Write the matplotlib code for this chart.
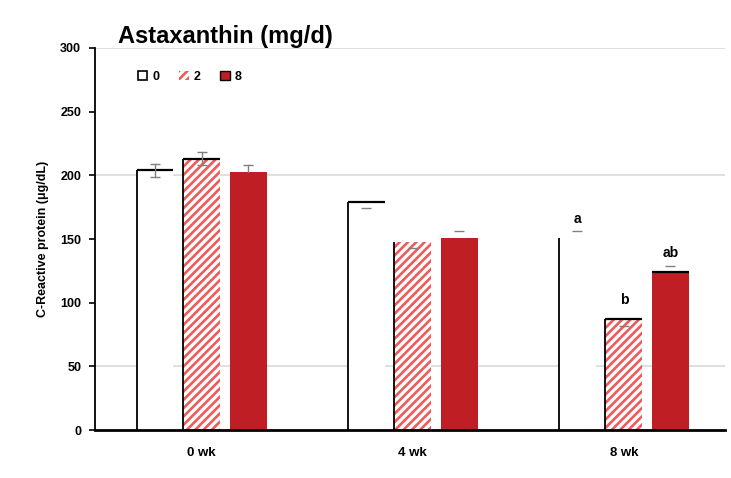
import matplotlib
matplotlib.use("Agg")
import matplotlib.pyplot as plt
import numpy as np
from matplotlib.patches import Patch

plt.rcParams['font.family'] = ['Liberation Sans', 'DejaVu Sans']
plt.rcParams['hatch.linewidth'] = 1.9

groups = ["0 wk", "4 wk", "8 wk"]
doses = ["0", "2", "8"]
vals_0 = [204, 179, 151]
vals_2 = [213, 148, 87]
vals_8 = [203, 151, 124]
err_lo_0 = [5, 5, 0]
err_hi_0 = [5, 0, 5]
err_lo_2 = [5, 5, 5]
err_hi_2 = [5, 0, 0]
err_lo_8 = [0, 0, 0]
err_hi_8 = [5, 5, 5]
letters_0 = ["", "", "a"]
letters_2 = ["", "", "b"]
letters_8 = ["", "", "ab"]
yticks = [0, 50, 100, 150, 200, 250, 300]
grid_levels = [50, 200, 300]

RED = "#be1e24"
HATCH = "#f05a5a"
ERR = "#808080"

fig = plt.figure(figsize=(7.31, 4.78), dpi=100)
ax = fig.add_axes([0.130, 0.1004, 0.862, 0.7992])

x = np.arange(len(groups))
step = 0.221
width = 0.175

for lv in grid_levels:
    ax.axhline(lv, color="#d9d9d9", lw=1.2, zorder=0)

series = [
    (vals_0, err_lo_0, err_hi_0, letters_0, dict(color="white", edgecolor="none")),
    (vals_2, err_lo_2, err_hi_2, letters_2, dict(color="white", edgecolor=HATCH, hatch="////", linewidth=0)),
    (vals_8, err_lo_8, err_hi_8, letters_8, dict(color=RED, edgecolor="none")),
]

for k, (vals, elo, ehi, lets, style) in enumerate(series):
    xs = x + (k - 1) * step
    bars = ax.bar(xs, vals, width=width, zorder=2, **style)
    for i, b in enumerate(bars):
        x0 = b.get_x()
        x1 = x0 + b.get_width()
        xc = x0 + b.get_width() / 2
        h = b.get_height()
        if k in (0, 1):
            ax.plot([x0, x0], [0, h], color="black", lw=1.3, zorder=3, solid_capstyle="butt")
            if not (k == 0 and i == 2) and not (k == 1 and i == 1):
                ax.plot([x0, x1], [h, h], color="black", lw=1.6, zorder=3, solid_capstyle="butt")
        if k == 2 and i == 2:
            ax.plot([x0, x1], [h, h], color="black", lw=1.6, zorder=3, solid_capstyle="butt")
        # error bars: whisker drawn in first group, caps where error is non-zero
        if i == 0:
            ax.plot([xc, xc], [h - elo[i], h + ehi[i]], color=ERR, lw=1.0, zorder=4)
        for yy, e in ((h - elo[i], elo[i]), (h + ehi[i], ehi[i])):
            if e > 0:
                ax.plot([xc], [yy], marker="_", ms=7, mew=1.0, color=ERR, zorder=4)
        if lets[i]:
            ax.annotate(lets[i], (xc, h + max(elo[i], ehi[i])),
                        xytext=(0, 4), textcoords="offset points", ha="center", va="bottom",
                        fontsize=10, fontweight="bold", zorder=5)

ax.set_xlim(-0.505, 2.48)
ax.set_ylim(0, 300)
ax.set_yticks(yticks)
ax.set_yticklabels([str(t) for t in yticks], fontsize=9, fontweight="bold")
ax.set_xticks(x)
ax.set_xticklabels(groups, fontsize=9.5, fontweight="bold")
ax.tick_params(axis="x", length=0, pad=12)
ax.tick_params(axis="y", length=4, width=1.2, direction="out", pad=6)
for s in ["top", "right"]:
    ax.spines[s].set_visible(False)
ax.spines["left"].set_linewidth(1.3)
ax.spines["bottom"].set_linewidth(2.0)
ax.spines["left"].set_zorder(6)
ax.spines["bottom"].set_zorder(6)
ax.set_ylabel("C-Reactive protein (μg/dL)", fontsize=9, fontweight="bold", labelpad=8)

handles = [
    Patch(facecolor="white", edgecolor="black", linewidth=1.2),
    Patch(facecolor="white", edgecolor=HATCH, hatch="////", linewidth=0),
    Patch(facecolor=RED, edgecolor="black", linewidth=1.0),
]
leg = ax.legend(handles, doses, ncol=3, frameon=False, loc="upper left",
                bbox_to_anchor=(0.05, 0.97), handlelength=0.75, handleheight=0.75,
                handletextpad=0.4, columnspacing=1.6,
                prop=dict(size=9, weight="bold"))

fig.text(118 / 731, 1 - 37 / 478, "Astaxanthin (mg/d)", fontsize=17, fontweight="bold",
         ha="left", va="center")

fig.savefig("out.png", dpi=100)
